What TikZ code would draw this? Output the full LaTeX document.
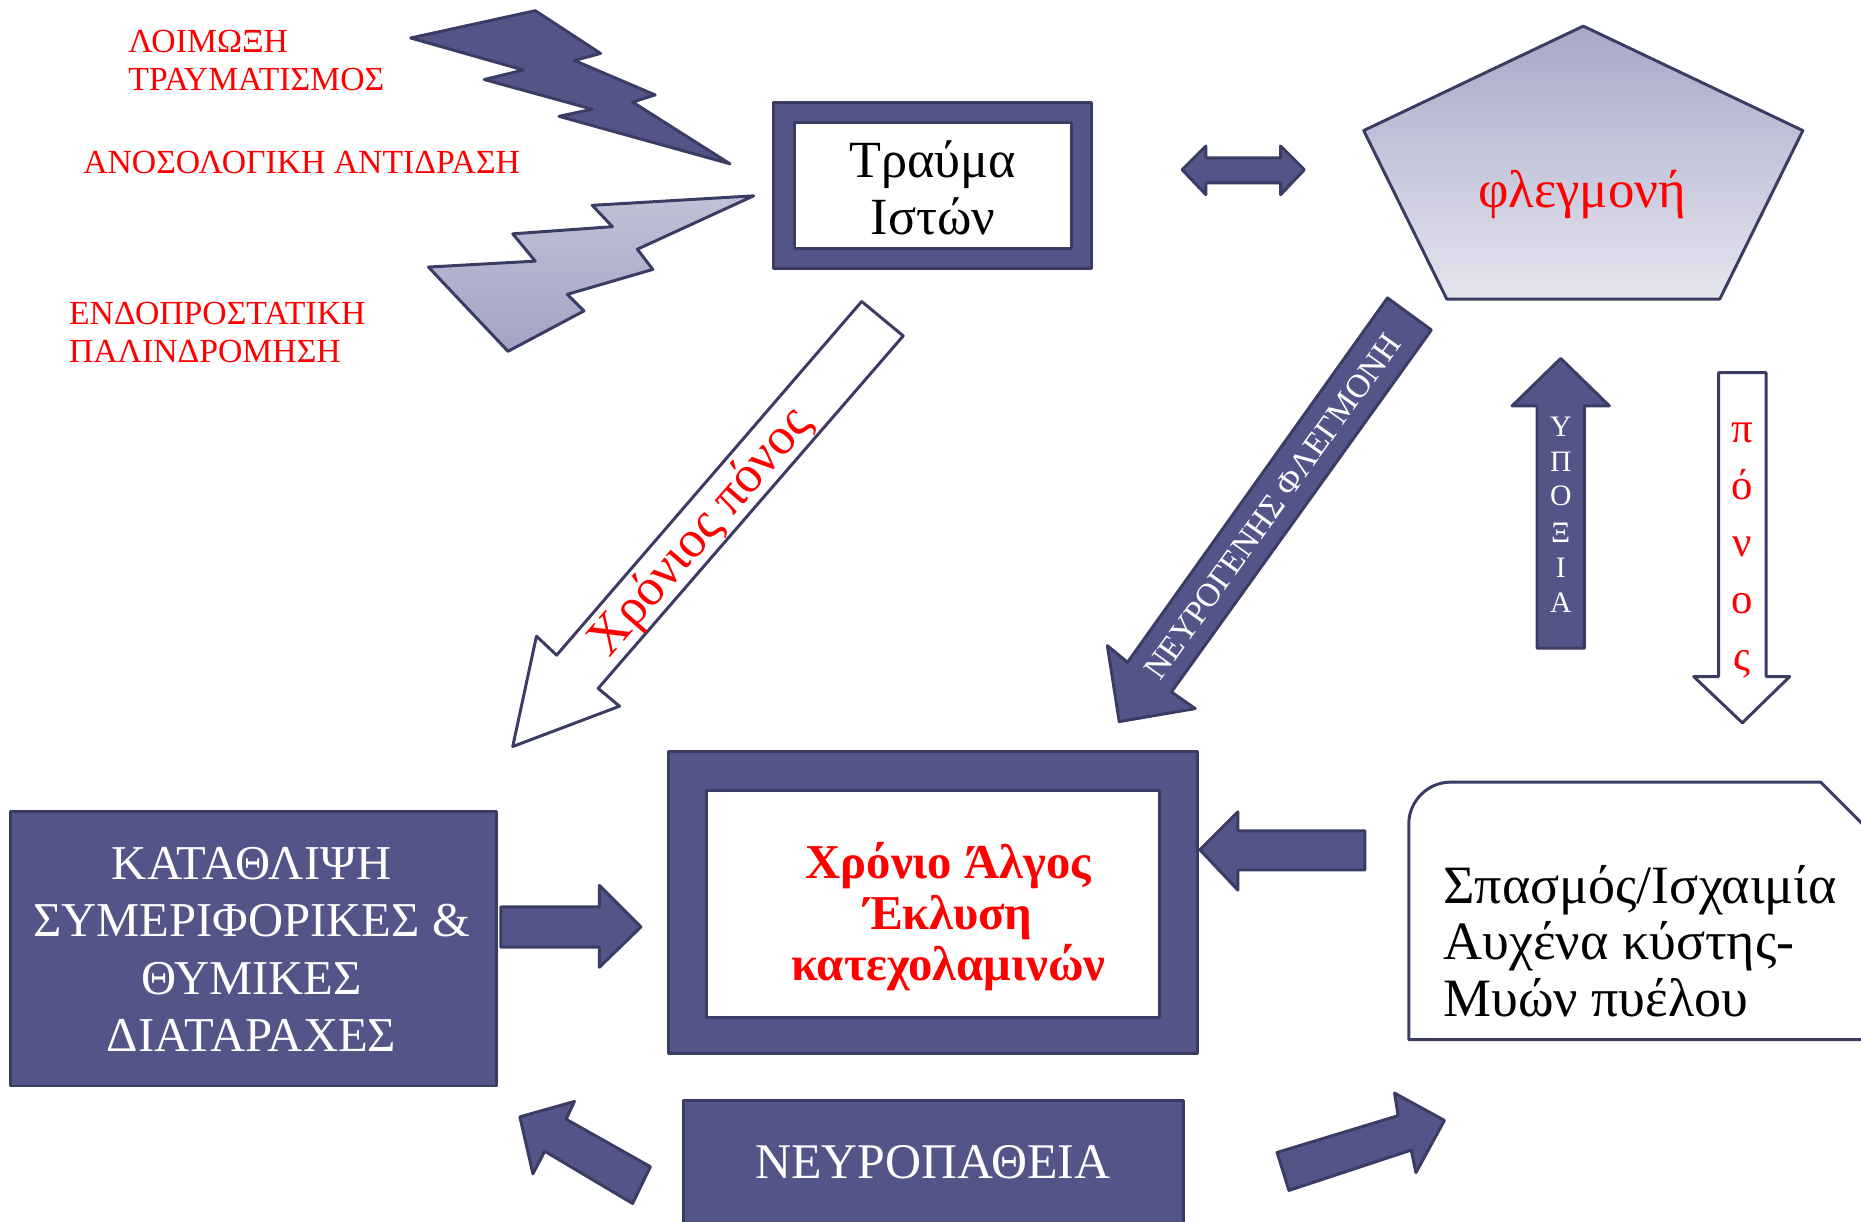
\documentclass[tikz,border=0pt]{standalone}
\usepackage{fontspec}
\setmainfont{Liberation Serif}
\definecolor{navy}{RGB}{83,85,136}
\definecolor{edgec}{RGB}{59,60,99}
\definecolor{lightA}{RGB}{168,168,200}
\definecolor{lightB}{RGB}{229,229,239}
\definecolor{boltT}{RGB}{192,193,214}
\definecolor{boltB}{RGB}{163,163,197}
\begin{document}
\begin{tikzpicture}[x=1pt,y=-1pt,line join=round]
\tikzset{
  darkfill/.style={fill=navy,draw=edgec,line width=2.5pt},
  whitefill/.style={fill=white,draw=edgec,line width=2.5pt},
  redlbl/.style={text=red,font=\fontsize{28.4}{30}\selectfont,inner sep=0pt,anchor=west},
  wtxt/.style={text=white,inner sep=0pt,align=center},
}
\clip (0,0) rectangle (1568,1029);
\fill[white] (0,0) rectangle (1568,1029);

% red cause labels
\node[redlbl] (loim) at (108,35) {ΛΟΙΜΩΞΗ};
\node[redlbl] (traum) at (108,67) {ΤΡΑΥΜΑΤΙΣΜΟΣ};
\node[redlbl] (anos) at (70,137) {ΑΝΟΣΟΛΟΓΙΚΗ ΑΝΤΙΔΡΑΣΗ};
\node[redlbl] (endo) at (58,264) {ΕΝΔΟΠΡΟΣΤΑΤΙΚΗ};
\node[redlbl] (pali) at (58,296) {ΠΑΛΙΝΔΡΟΜΗΣΗ};

% lightning bolts
\draw[darkfill] (346,32) -- (451,9) -- (506,45) -- (484,51) -- (552,80) -- (533,86) -- (615,138) -- (471,98) -- (499,92) -- (408,67) -- (441,59) -- cycle;
\shade[top color=boltT,bottom color=boltB,draw=edgec,line width=2.5pt] (635,165) -- (499,173) -- (516,191) -- (432,197) -- (451,220) -- (361,225) -- (428,296) -- (492,262) -- (478,248) -- (550,227) -- (537,210) -- cycle;

% Trauma box
\draw[darkfill] (652,86) rectangle (920,226);
\draw[whitefill] (669,103) rectangle (903,209);
\node[inner sep=0pt,align=center,font=\fontsize{44}{48}\selectfont] (trauma) at (786,158) {Τραύμα\\Ιστών};

% double arrow
\draw[darkfill] (996,143) -- (1016,123) -- (1016,133) -- (1079,133) -- (1079,123) -- (1099,143) -- (1079,164) -- (1079,154) -- (1016,154) -- (1016,164) -- cycle;

% pentagon
\shade[top color=lightA,bottom color=lightB,draw=edgec,line width=2.5pt] (1334,22) -- (1519,110) -- (1449,252) -- (1219,252) -- (1149,110) -- cycle;
\node[text=red,inner sep=0pt,font=\fontsize{44.5}{48}\selectfont] (fleg) at (1333,164) {φλεγμονή};

% chronic pain arrow
\draw[whitefill] (726,254) -- (761,283) -- (504,580) -- (522,595) -- (432,629) -- (452,536) -- (469,552) -- cycle;
\node[text=red,inner sep=0pt,rotate=49,font=\fontsize{44}{48}\selectfont] (chpain) at (591,449) {Χρόνιος πόνος};

% neurogenic inflammation arrow
\draw[darkfill] (1169,251) -- (1206,278) -- (987,583) -- (1007,597) -- (943,608) -- (933,544) -- (950,558) -- cycle;
\node[wtxt,rotate=54.4,font=\fontsize{28}{30}\selectfont] (neurog) at (1072,427) {ΝΕΥΡΟΓΕΝΗΣ ΦΛΕΓΜΟΝΗ};

% hypoxia arrow
\draw[darkfill] (1315,302) -- (1356,342) -- (1335,342) -- (1335,546) -- (1295,546) -- (1295,342) -- (1274,342) -- cycle;
\foreach \l/\yy [count=\i] in {Υ/360,Π/389,Ο/418,Ξ/449,Ι/478,Α/508}
  \node[wtxt,font=\fontsize{25}{28}\selectfont] (hyp\i) at (1315,\yy) {\l};

% pain arrow
\draw[whitefill] (1448,314) -- (1488,314) -- (1488,570) -- (1508,570) -- (1468,609) -- (1427,570) -- (1448,570) -- cycle;
\foreach \l/\yy [count=\i] in {π/373,ό/421,ν/469,ο/517,ς/565}
  \node[text=red,inner sep=0pt,anchor=base,font=\fontsize{36}{40}\selectfont] (pon\i) at (1468,\yy) {\l};

% central box
\draw[darkfill] (563,633) rectangle (1009,888);
\draw[whitefill] (595,666) rectangle (977,857);
\node[text=red,inner sep=0pt,align=center,font=\bfseries\fontsize{41}{43}\selectfont] (algos) at (799,772) {Χρόνιο Άλγος\\Έκλυση\\κατεχολαμινών};

% depression box
\draw[darkfill] (9,684) rectangle (418,915);
\node[wtxt,font=\fontsize{41}{48.3}\selectfont] (katath) at (212,800) {ΚΑΤΑΘΛΙΨΗ\\ΣΥΜΕΡΙΦΟΡΙΚΕΣ \&\\ΘΥΜΙΚΕΣ\\ΔΙΑΤΑΡΑΧΕΣ};

% arrow depression -> central
\draw[darkfill] (422,764) -- (505,764) -- (505,746) -- (540,781) -- (505,815) -- (505,798) -- (422,798) -- cycle;
% arrow spasm -> central
\draw[darkfill] (1150,700) -- (1043,700) -- (1043,684) -- (1011,716) -- (1043,750) -- (1043,733) -- (1150,733) -- cycle;

% spasm box
\draw[whitefill] (1600,876) -- (1187,876) -- (1187,694) .. controls (1187,675) and (1203,659) .. (1222,659) -- (1534,659) -- (1600,725) -- cycle;
\node[inner sep=0pt,align=left,anchor=west,font=\fontsize{45.5}{48}\selectfont] (spasm) at (1216,793) {Σπασμός/Ισχαιμία\\Αυχένα κύστης-\\Μυών πυέλου};

% neuropathy box
\draw[darkfill] (576,927) rectangle (997,1045);
\node[wtxt,font=\fontsize{42}{44}\selectfont] (neuro) at (786,979) {ΝΕΥΡΟΠΑΘΕΙΑ};

% neuropathy arrows
\draw[darkfill] (438,941) -- (484,928) -- (477,943) -- (548,983) -- (533,1014) -- (459,970) -- (449,989) -- cycle;
\draw[darkfill] (1076,971) -- (1178,940) -- (1175,921) -- (1217,944) -- (1193,988) -- (1189,969) -- (1086,1003) -- cycle;
\end{tikzpicture}
\end{document}
